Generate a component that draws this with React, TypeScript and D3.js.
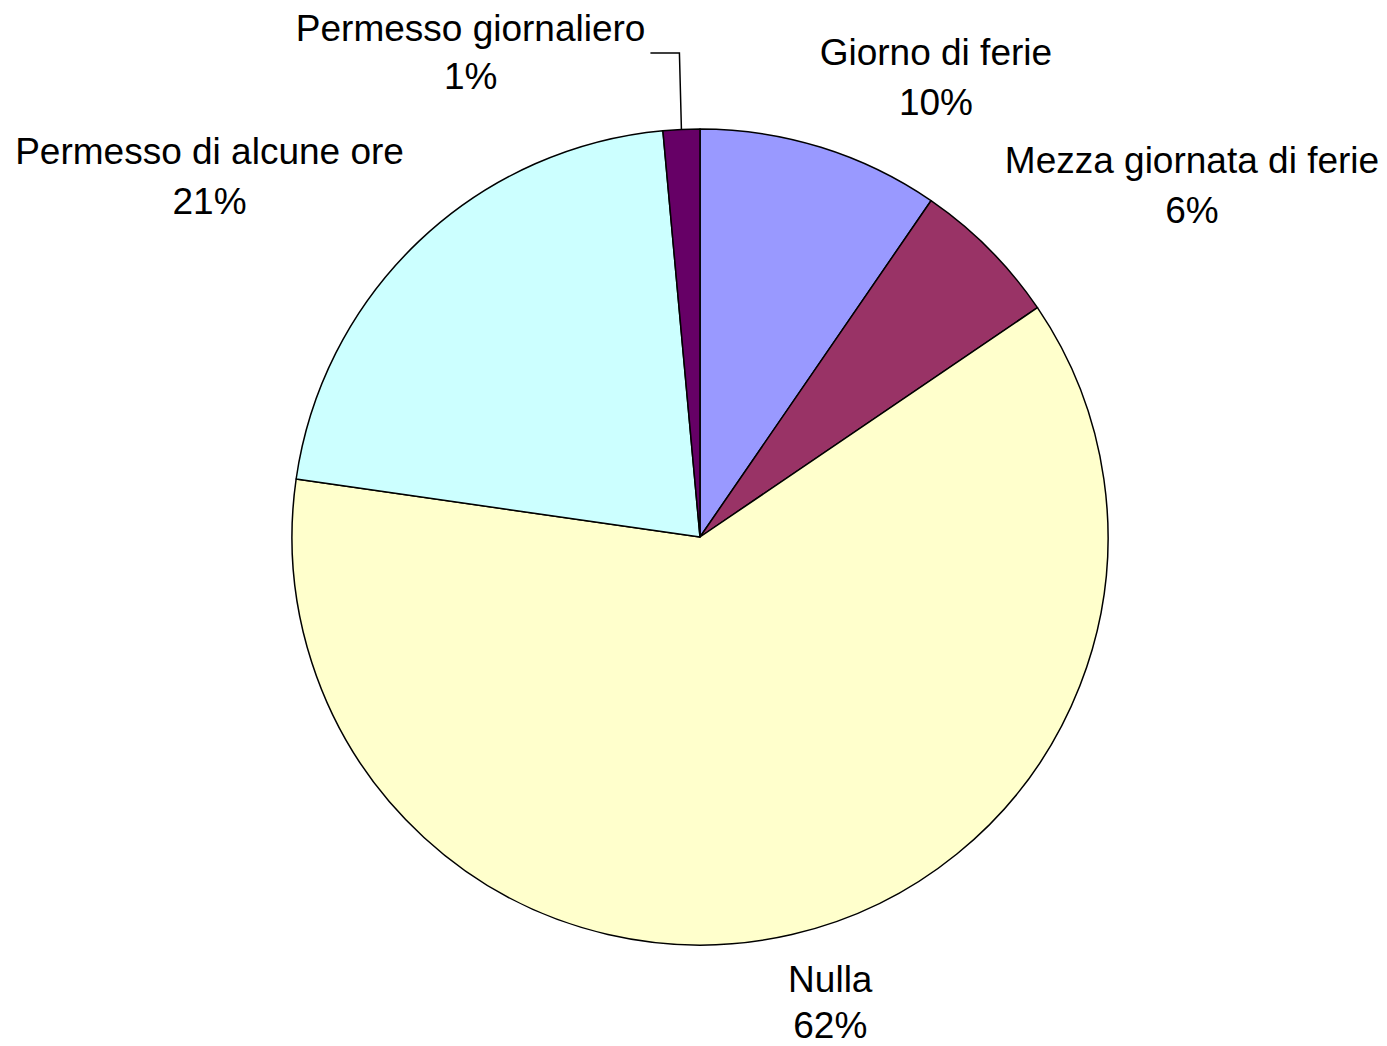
import React from "react";
import * as d3 from "d3";

const categories = [
  "Giorno di ferie",
  "Mezza giornata di ferie",
  "Nulla",
  "Permesso di alcune ore",
  "Permesso giornaliero",
];
const values = [9.58, 5.92, 61.77, 21.28, 1.45];
const colors = ["#9999FF", "#993366", "#FFFFCC", "#CCFFFF", "#660066"];

const W = 1387;
const H = 1046;
const CX = 700;
const CY = 537;
const R = 408;
const LABEL_R = 430;
const FONT = "'Liberation Sans', Arial, sans-serif";
const FS = 37;
const LINE = 50;

function measure(text: string): number {
  const c = document.createElement("canvas");
  const ctx = c.getContext("2d");
  if (!ctx) return text.length * FS * 0.55;
  ctx.font = `${FS}px ${FONT}`;
  return ctx.measureText(text).width;
}

export default function App() {
  const total = d3.sum(values);
  const pie = d3
    .pie<number>()
    .sort(null)
    .value((d) => d)
    .startAngle(0)
    .endAngle(2 * Math.PI);
  const arcs = pie(values);
  const arcGen = d3.arc<d3.PieArcDatum<number>>().innerRadius(0).outerRadius(R);
  const pct = d3.format(".0%");

  return (
    <svg
      width={W}
      height={H}
      style={{ position: "absolute", left: 0, top: 0, background: "#fff" }}
      fontFamily={FONT}
      fontSize={FS}
    >
      <rect x={0} y={0} width={W} height={H} fill="#fff" />
      <g transform={`translate(${CX},${CY})`}>
        {arcs.map((a, i) => (
          <path
            key={i}
            d={arcGen(a) || ""}
            fill={colors[i]}
            stroke="#000"
            strokeWidth={1.5}
            strokeLinejoin="round"
          />
        ))}
      </g>
      {arcs.map((a, i) => {
        const mid = (a.startAngle + a.endAngle) / 2;
        const s = Math.sin(mid);
        const c = Math.cos(mid);
        const l1 = categories[i];
        const l2 = pct(values[i] / total);
        const w = Math.max(measure(l1), measure(l2));
        const share = values[i] / total;
        if (share < 0.03) {
          const ex = CX + R * s;
          const ey = CY - R * c;
          const elbowY = CY - 484;
          const endX = ex - 31;
          const cxL = endX - 5 - w / 2;
          const cyL = elbowY;
          return (
            <g key={i}>
              <polyline
                points={`${ex},${ey} ${ex - 2},${elbowY} ${endX},${elbowY}`}
                fill="none"
                stroke="#000"
                strokeWidth={1.5}
              />
              <text x={cxL} y={cyL - 12} textAnchor="middle" fill="#000">
                {l1}
              </text>
              <text x={cxL} y={cyL + 36} textAnchor="middle" fill="#000">
                {l2}
              </text>
            </g>
          );
        }
        const ax = CX + LABEL_R * s - 50 * Math.max(0, Math.abs(c) - 0.8);
        const ay = CY - LABEL_R * c;
        const cx = s >= 0 ? ax + w / 2 : ax - w / 2;
        let y1: number;
        let y2: number;
        if (c > 0) {
          y2 = ay - 11;
          y1 = y2 - LINE;
        } else {
          y1 = ay + 36;
          y2 = y1 + 46;
        }
        return (
          <g key={i}>
            <text x={cx} y={y1} textAnchor="middle" fill="#000">
              {l1}
            </text>
            <text x={cx} y={y2} textAnchor="middle" fill="#000">
              {l2}
            </text>
          </g>
        );
      })}
    </svg>
  );
}
